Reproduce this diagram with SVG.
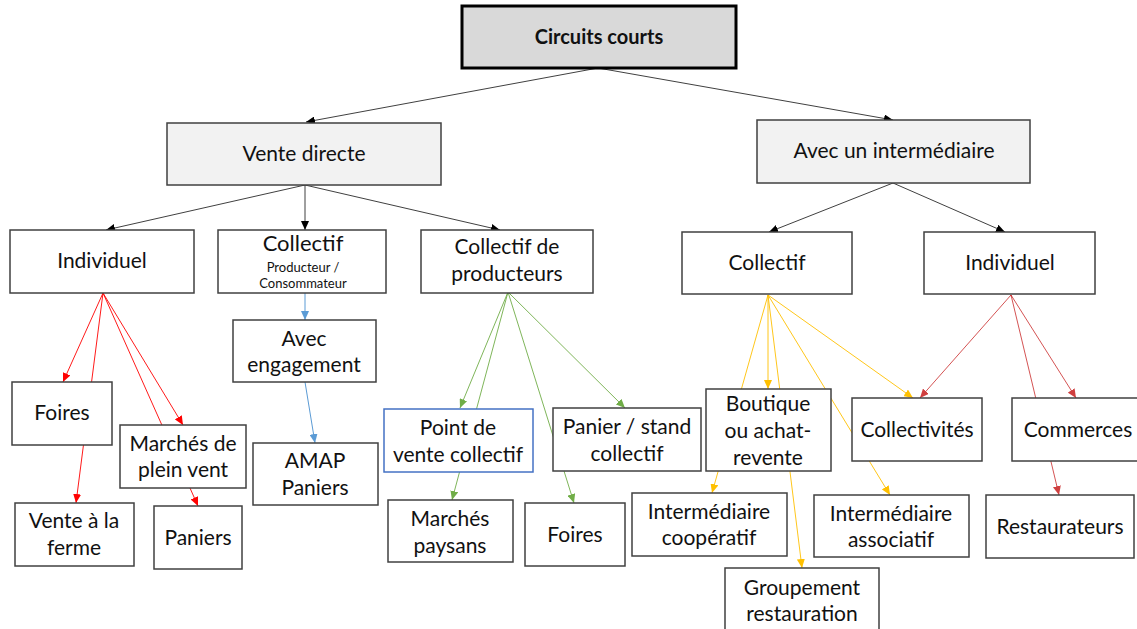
<svg xmlns="http://www.w3.org/2000/svg" width="1137" height="629" viewBox="0 0 1137 629">
<defs>
<style>
.box{fill:#fff;stroke:#404040;stroke-width:1.5}
.gray{fill:#f2f2f2;stroke:#404040;stroke-width:1.5}
.t{font-family:Lato,"Liberation Sans",sans-serif;font-size:21px;fill:#111;text-anchor:middle}
.s{font-family:Lato,"Liberation Sans",sans-serif;font-size:13px;fill:#111;text-anchor:middle}
.k{stroke:#404040;stroke-width:1;fill:none}
.r{stroke:#ff0000;stroke-width:0.9;fill:none}
.b{stroke:#5b9bd5;stroke-width:1;fill:none}
.g{stroke:#70ad47;stroke-width:0.9;fill:none}
.y{stroke:#ffc000;stroke-width:0.9;fill:none}
.d{stroke:#c00000;stroke-width:0.9;fill:none;opacity:0.75}
</style>
<marker id="mk" markerUnits="userSpaceOnUse" markerWidth="9" markerHeight="8" refX="9" refY="4" orient="auto"><path d="M0,0 L9,4 L0,8 z" fill="#000"/></marker>
<marker id="mr" markerUnits="userSpaceOnUse" markerWidth="9" markerHeight="8" refX="9" refY="4" orient="auto"><path d="M0,0 L9,4 L0,8 z" fill="#ff0000"/></marker>
<marker id="mb" markerUnits="userSpaceOnUse" markerWidth="9" markerHeight="8" refX="9" refY="4" orient="auto"><path d="M0,0 L9,4 L0,8 z" fill="#5b9bd5"/></marker>
<marker id="mg" markerUnits="userSpaceOnUse" markerWidth="9" markerHeight="8" refX="9" refY="4" orient="auto"><path d="M0,0 L9,4 L0,8 z" fill="#70ad47"/></marker>
<marker id="my" markerUnits="userSpaceOnUse" markerWidth="9" markerHeight="8" refX="9" refY="4" orient="auto"><path d="M0,0 L9,4 L0,8 z" fill="#ffc000"/></marker>
<marker id="md" markerUnits="userSpaceOnUse" markerWidth="9" markerHeight="8" refX="9" refY="4" orient="auto"><path d="M0,0 L9,4 L0,8 z" fill="#c00000"/></marker>
</defs>
<rect width="1137" height="629" fill="#fff"/>
<g id="connectors">
<line class="k" x1="598" y1="68" x2="306" y2="122" marker-end="url(#mk)"/>
<line class="k" x1="598" y1="68" x2="893" y2="120" marker-end="url(#mk)"/>
<line class="k" x1="305" y1="185" x2="106" y2="230" marker-end="url(#mk)"/>
<line class="k" x1="305" y1="185" x2="305" y2="230" marker-end="url(#mk)"/>
<line class="k" x1="305" y1="185" x2="500" y2="230" marker-end="url(#mk)"/>
<line class="k" x1="893" y1="183" x2="769" y2="232" marker-end="url(#mk)"/>
<line class="k" x1="893" y1="183" x2="1005" y2="232" marker-end="url(#mk)"/>
<line class="r" x1="103" y1="293" x2="63" y2="382" marker-end="url(#mr)"/>
<line class="r" x1="103" y1="293" x2="76" y2="503" marker-end="url(#mr)"/>
<line class="r" x1="103" y1="293" x2="183" y2="425" marker-end="url(#mr)"/>
<line class="r" x1="103" y1="293" x2="198" y2="506" marker-end="url(#mr)"/>
<line class="b" x1="305" y1="293" x2="305" y2="320" marker-end="url(#mb)"/>
<line class="b" x1="305" y1="382" x2="315" y2="443" marker-end="url(#mb)"/>
<line class="g" x1="508" y1="292" x2="460" y2="408" marker-end="url(#mg)"/>
<line class="g" x1="508" y1="292" x2="452" y2="500" marker-end="url(#mg)"/>
<line class="g" x1="508" y1="292" x2="574" y2="503" marker-end="url(#mg)"/>
<line class="g" x1="508" y1="292" x2="625" y2="408" marker-end="url(#mg)"/>
<line class="y" x1="768" y1="295" x2="712" y2="493" marker-end="url(#my)"/>
<line class="y" x1="768" y1="295" x2="768" y2="389" marker-end="url(#my)"/>
<line class="y" x1="768" y1="295" x2="802" y2="568" marker-end="url(#my)"/>
<line class="y" x1="768" y1="295" x2="890" y2="495" marker-end="url(#my)"/>
<line class="y" x1="768" y1="295" x2="913" y2="398" marker-end="url(#my)"/>
<line class="d" x1="1011" y1="295" x2="920" y2="398" marker-end="url(#md)"/>
<line class="d" x1="1011" y1="295" x2="1059" y2="495" marker-end="url(#md)"/>
<line class="d" x1="1011" y1="295" x2="1076" y2="398" marker-end="url(#md)"/>
</g>
<g id="n-circuits"><rect x="462" y="6" width="274" height="62" fill="#d9d9d9" stroke="#000" stroke-width="3"/><text class="t" x="599" y="44" style="font-weight:bold;font-size:20px">Circuits courts</text></g>
<g id="n-vente-directe"><rect class="gray" x="167" y="123" width="274" height="62"/><text class="t" x="304" y="161">Vente directe</text></g>
<g id="n-intermediaire"><rect class="gray" x="757" y="120" width="273" height="63"/><text class="t" x="894" y="158">Avec un intermédiaire</text></g>
<g id="n-individuel-l"><rect class="box" x="10" y="230" width="184" height="63"/><text class="t" x="102" y="268">Individuel</text></g>
<g id="n-collectif-l"><rect class="box" x="218" y="230" width="168" height="63"/><text class="t" x="303" y="251" style="font-size:22px">Collectif</text><text class="s" x="303" y="272">Producteur /</text><text class="s" x="303" y="288">Consommateur</text></g>
<g id="n-collectif-prod"><rect class="box" x="421" y="230" width="172" height="63"/><text class="t" x="507" y="254">Collectif de</text><text class="t" x="507" y="281">producteurs</text></g>
<g id="n-collectif-r"><rect class="box" x="682" y="232" width="170" height="62"/><text class="t" x="767" y="270">Collectif</text></g>
<g id="n-individuel-r"><rect class="box" x="924" y="232" width="171" height="62"/><text class="t" x="1010" y="270">Individuel</text></g>
<g id="n-foires-l"><rect class="box" x="12" y="382" width="100" height="63"/><text class="t" x="62" y="420">Foires</text></g>
<g id="n-marches-plein"><rect class="box" x="120" y="425" width="126" height="63"/><text class="t" x="183" y="451">Marchés de</text><text class="t" x="183" y="477">plein vent</text></g>
<g id="n-vente-ferme"><rect class="box" x="15" y="503" width="119" height="63"/><text class="t" x="74" y="528">Vente à la</text><text class="t" x="74" y="555">ferme</text></g>
<g id="n-paniers"><rect class="box" x="154" y="506" width="88" height="63"/><text class="t" x="198" y="545">Paniers</text></g>
<g id="n-avec-engagement"><rect class="box" x="233" y="320" width="143" height="62"/><text class="t" x="304" y="346">Avec</text><text class="t" x="304" y="372">engagement</text></g>
<g id="n-amap"><rect class="box" x="253" y="443" width="125" height="62"/><text class="t" x="315" y="468">AMAP</text><text class="t" x="315" y="495">Paniers</text></g>
<g id="n-point-vente"><rect x="384" y="409" width="149" height="63" fill="#fff" stroke="#4472c4" stroke-width="1.5"/><text class="t" x="458" y="435">Point de</text><text class="t" x="458" y="462">vente collectif</text></g>
<g id="n-panier-stand"><rect class="box" x="553" y="408" width="148" height="63"/><text class="t" x="627" y="434">Panier / stand</text><text class="t" x="627" y="461">collectif</text></g>
<g id="n-marches-paysans"><rect class="box" x="388" y="500" width="125" height="62"/><text class="t" x="450" y="526">Marchés</text><text class="t" x="450" y="553">paysans</text></g>
<g id="n-foires-g"><rect class="box" x="525" y="503" width="100" height="63"/><text class="t" x="575" y="542">Foires</text></g>
<g id="n-boutique"><rect class="box" x="706" y="389" width="125" height="82"/><text class="t" x="768" y="411">Boutique</text><text class="t" x="768" y="438">ou achat-</text><text class="t" x="768" y="465">revente</text></g>
<g id="n-collectivites"><rect class="box" x="852" y="398" width="130" height="63"/><text class="t" x="917" y="437">Collectivités</text></g>
<g id="n-commerces"><rect class="box" x="1012" y="398" width="132" height="63"/><text class="t" x="1078" y="437">Commerces</text></g>
<g id="n-inter-coop"><rect class="box" x="632" y="493" width="155" height="63"/><text class="t" x="709" y="519">Intermédiaire</text><text class="t" x="709" y="545">coopératif</text></g>
<g id="n-inter-asso"><rect class="box" x="814" y="495" width="155" height="62"/><text class="t" x="891" y="521">Intermédiaire</text><text class="t" x="891" y="547">associatif</text></g>
<g id="n-restaurateurs"><rect class="box" x="986" y="495" width="148" height="63"/><text class="t" x="1060" y="534">Restaurateurs</text></g>
<g id="n-groupement"><rect class="box" x="725" y="568" width="154" height="64"/><text class="t" x="802" y="595">Groupement</text><text class="t" x="802" y="621">restauration</text></g>
</svg>
